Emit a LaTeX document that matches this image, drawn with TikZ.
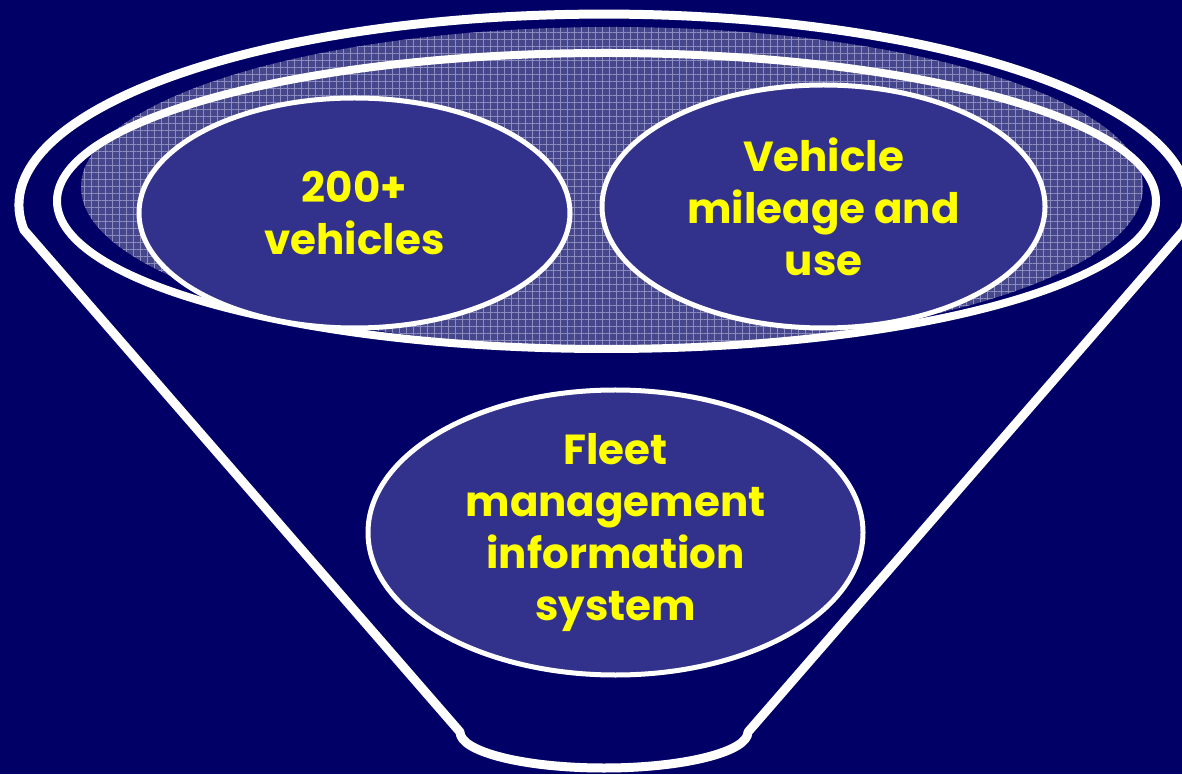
\documentclass[tikz,border=0pt]{standalone}
\usepackage{fontspec}
\setmainfont{Poppins}
\usetikzlibrary{shapes.geometric,patterns.meta}
\definecolor{funnelnavy}{RGB}{0,0,102}
\definecolor{bubblefill}{RGB}{50,50,140}
\definecolor{meshfill}{RGB}{70,70,140}
\definecolor{meshline}{RGB}{140,140,190}
\definecolor{labelyellow}{RGB}{255,255,0}
\tikzset{
  bubble/.style={ellipse, draw=white, line width=5pt, fill=bubblefill, inner sep=0pt},
  bubbletext/.style={text=labelyellow, font=\bfseries\fontsize{42}{52}\selectfont, align=center, inner sep=0pt},
  ring/.style={draw=white, line join=round},
}
\begin{document}
\begin{tikzpicture}[scale=1.000000,x=1pt,y=1pt]
\useasboundingbox (0.000000,0.000000) rectangle (1182.000000,774.000000);
\fill[color=funnelnavy] (0.000000,0.000000) rectangle (1182.000000,774.000000);
% Drawing the mesh behind the top bubbles
\fill[color=meshfill] (612.000000,587.000000) ellipse [x radius=531.000000, y radius=160.000000];
\fill[pattern={Hatch[distance=7pt,angle=0,line width=0.6pt]}, pattern color=meshline] (612.000000,587.000000) ellipse [x radius=531.000000, y radius=160.000000];
% Inner rim of the funnel
\draw[ring, line width=8pt] (606.500000,573.000000) ellipse [x radius=549.500000, y radius=148.000000];
% Funnel outline: rim, sides and spout
\coordinate (spoutleft) at (460.000000,42.000000);
\coordinate (rimleft) at (24.000000,544.000000);
\coordinate (spoutright) at (748.000000,42.000000);
\draw[ring, line width=9pt] (spoutleft) -- (rimleft)
  arc[start angle=187.5, end angle=-7.5, x radius=585.000000, y radius=191.000000]
  -- (spoutright)
  arc[start angle=0, end angle=-180, x radius=144.000000, y radius=36.000000] -- cycle;
% Done with funnel; drawing bubbles
\node[bubble, minimum width=431pt, minimum height=230pt] (vehicles) at (354.500000,561.000000) {};
\node[bubble, minimum width=443pt, minimum height=243pt] (mileage) at (823.500000,567.500000) {};
\node[bubble, minimum width=495pt, minimum height=285pt] (fleet) at (615.500000,241.500000) {};
% Labels
\node[bubbletext] (vehiclestext) at (vehicles) {200+\\vehicles};
\node[bubbletext] (mileagetext) at (mileage) {Vehicle\\mileage and\\use};
\node[bubbletext] (fleettext) at (fleet) {Fleet\\management\\information\\system};
\end{tikzpicture}
\end{document}
